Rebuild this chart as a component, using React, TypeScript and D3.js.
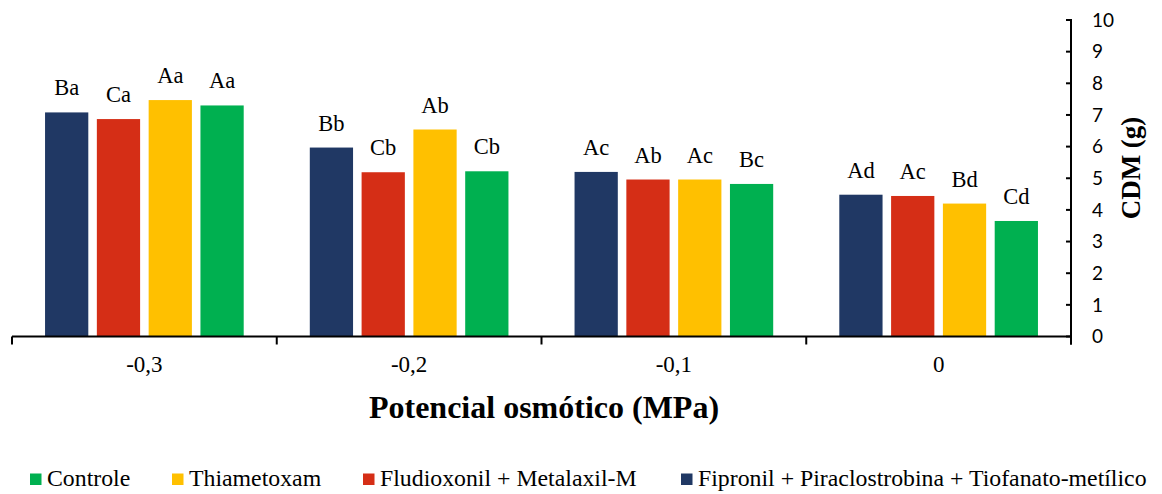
import React from 'react';
import * as d3 from 'd3';

const categories = ['-0,3', '-0,2', '-0,1', '0'];
const seriesNames = [
  'Fipronil + Piraclostrobina + Tiofanato-metílico',
  'Fludioxonil + Metalaxil-M',
  'Thiametoxam',
  'Controle',
];
const seriesColors = ['#203864', '#D52E16', '#FFC000', '#00B050'];

// values per series, in category order
const fipronilValues = [7.08, 5.97, 5.2, 4.48];
const fludioxonilValues = [6.87, 5.19, 4.96, 4.44];
const thiametoxamValues = [7.47, 6.54, 4.96, 4.2];
const controleValues = [7.3, 5.22, 4.82, 3.65];

const fipronilLabels = ['Ba', 'Bb', 'Ac', 'Ad'];
const fludioxonilLabels = ['Ca', 'Cb', 'Ab', 'Ac'];
const thiametoxamLabels = ['Aa', 'Ab', 'Ac', 'Bd'];
const controleLabels = ['Aa', 'Cb', 'Bc', 'Cd'];

const yTicks = [0, 1, 2, 3, 4, 5, 6, 7, 8, 9, 10];

// legend order as in the picture
const legendOrder = [3, 2, 1, 0];

const serif = { fontFamily: 'Liberation Serif' };
const sans = { fontFamily: 'Lato' };

export default function App() {
  const width = 1162;
  const height = 494;
  const plot = { left: 12, right: 1071, top: 20, bottom: 336.5 };

  const values = [fipronilValues, fludioxonilValues, thiametoxamValues, controleValues];
  const labels = [fipronilLabels, fludioxonilLabels, thiametoxamLabels, controleLabels];

  const x0 = d3.scaleBand().domain(categories).range([plot.left, plot.right]).padding(0);
  const x1 = d3
    .scaleBand<number>()
    .domain(d3.range(seriesNames.length))
    .range([0, x0.bandwidth()])
    .paddingInner(0.165)
    .paddingOuter(0.638);
  const y = d3.scaleLinear().domain([0, 10]).range([plot.bottom, plot.top]);

  const legendX = [30, 172, 363, 681];

  return (
    <svg
      width={width}
      height={height}
      style={{ position: 'absolute', left: 0, top: 0, background: '#fff' }}
    >
      {/* bars */}
      {categories.map((c, ci) => (
        <g key={c} transform={`translate(${x0(c)},0)`}>
          {seriesNames.map((s, si) => (
            <g key={s}>
              <rect
                x={x1(si)}
                y={y(values[si][ci])}
                width={x1.bandwidth()}
                height={plot.bottom - y(values[si][ci])}
                fill={seriesColors[si]}
              />
              <text
                x={(x1(si) as number) + x1.bandwidth() / 2}
                y={y(values[si][ci]) - 17}
                textAnchor="middle"
                style={{ ...serif, fontSize: 22.5 }}
                fill="#000"
              >
                {labels[si][ci]}
              </text>
            </g>
          ))}
        </g>
      ))}

      {/* x axis */}
      <line x1={plot.left} x2={plot.right} y1={plot.bottom} y2={plot.bottom} stroke="#000" strokeWidth={2} />
      {[...categories.map((c) => x0(c) as number), plot.right].map((px, i) => (
        <line key={i} x1={px} x2={px} y1={plot.bottom} y2={plot.bottom + 8} stroke="#000" strokeWidth={2} />
      ))}
      {categories.map((c) => (
        <text
          key={c}
          x={(x0(c) as number) + x0.bandwidth() / 2}
          y={372}
          textAnchor="middle"
          style={{ ...serif, fontSize: 23 }}
        >
          {c}
        </text>
      ))}
      <text x={544} y={418} textAnchor="middle" style={{ ...serif, fontSize: 32, fontWeight: 'bold' }}>
        Potencial osmótico (MPa)
      </text>

      {/* y axis (right) */}
      <line x1={plot.right} x2={plot.right} y1={plot.top - 1} y2={plot.bottom + 8} stroke="#000" strokeWidth={2} />
      {yTicks.map((t) => (
        <g key={t}>
          <line x1={plot.right - 5} x2={plot.right} y1={y(t)} y2={y(t)} stroke="#000" strokeWidth={2} />
          <text x={1092} y={y(t)} dy="0.36em" style={{ ...sans, fontSize: 19 }} fill="#000">
            {t}
          </text>
        </g>
      ))}
      <text
        transform={`translate(1140, 168) rotate(-90)`}
        textAnchor="middle"
        style={{ ...serif, fontSize: 27, fontWeight: 'bold' }}
      >
        CDM (g)
      </text>

      {/* legend */}
      {legendOrder.map((si, i) => (
        <g key={si} transform={`translate(${legendX[i]}, 0)`}>
          <rect x={0} y={473.5} width={11.5} height={11.5} fill={seriesColors[si]} />
          <text x={17} y={485.5} style={{ ...serif, fontSize: 23.8 }}>
            {seriesNames[si]}
          </text>
        </g>
      ))}
    </svg>
  );
}
